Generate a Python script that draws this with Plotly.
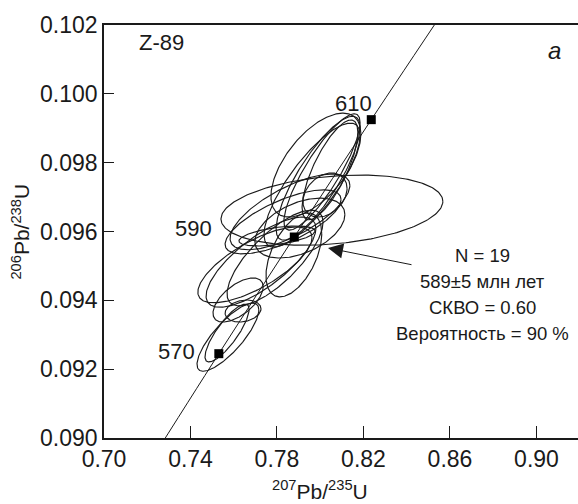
import numpy as np
import plotly.graph_objects as go

# Concordia reference points (207Pb/235U, 206Pb/238U)
conc_x = [0.7189, 0.7531, 0.7880, 0.8236, 0.8598]
conc_y = [0.08906, 0.09245, 0.09584, 0.09925, 0.10266]
# Age markers on concordia
mark_age = ["570", "590", "610"]
mark_x = [0.7531, 0.7880, 0.8236]
mark_y = [0.09245, 0.09584, 0.09925]

# Error ellipses: centre x, centre y, half-width x, half-height y, correlation
ell_cx = [0.7980, 0.7990, 0.8008, 0.7962, 0.8045, 0.8022, 0.8054, 0.7860, 0.7828, 0.7906,
          0.7800, 0.7698, 0.7726, 0.7791, 0.7878, 0.7643, 0.7620, 0.7573, 0.7569]
ell_cy = [0.09793, 0.09755, 0.09773, 0.09735, 0.09779, 0.09706, 0.09662, 0.09657, 0.09628, 0.09610,
          0.09587, 0.09503, 0.09511, 0.09523, 0.09532, 0.09369, 0.09401, 0.09293, 0.09305]
ell_sx = [0.0208, 0.0194, 0.0176, 0.0222, 0.0129, 0.0102, 0.0513, 0.0277, 0.0268, 0.0208,
          0.0176, 0.0264, 0.0254, 0.0222, 0.0129, 0.0083, 0.0116, 0.0143, 0.0102]
ell_sy = [0.00151, 0.00180, 0.00169, 0.00180, 0.00145, 0.00064, 0.00102, 0.00110, 0.00093, 0.00087,
          0.00029, 0.00110, 0.00131, 0.00139, 0.00122, 0.00032, 0.00064, 0.00099, 0.00084]
ell_rho = [0.60, 0.82, 0.85, 0.80, 0.75, 0.30, 0.25, 0.70, 0.70, 0.45,
           0.50, 0.72, 0.75, 0.75, 0.50, 0.20, 0.60, 0.80, 0.82]

x_ticks = [0.70, 0.74, 0.78, 0.82, 0.86, 0.90]
y_ticks = [0.090, 0.092, 0.094, 0.096, 0.098, 0.100, 0.102]

result_lines = ["N = 19", "589±5 млн лет", "СКВО = 0.60", "Вероятность = 90 %"]

FONT = "Liberation Sans, Arial, sans-serif"
INK = "#1a1a1a"
fig = go.Figure()

t = np.linspace(0, 2 * np.pi, 240)
for cx, cy, sx, sy, r in zip(ell_cx, ell_cy, ell_sx, ell_sy, ell_rho):
    ex = cx + sx * np.cos(t)
    ey = cy + sy * (r * np.cos(t) + np.sqrt(1 - r * r) * np.sin(t))
    fig.add_trace(go.Scatter(x=ex, y=ey, mode="lines",
                             line=dict(color=INK, width=1.15), hoverinfo="skip", showlegend=False))

fig.add_trace(go.Scatter(x=conc_x, y=conc_y, mode="lines", line=dict(color=INK, width=1),
                         showlegend=False, line_shape="spline"))
fig.add_trace(go.Scatter(x=mark_x, y=mark_y, mode="markers",
                         marker=dict(symbol="square", size=9, color="black"), showlegend=False))

x_rng = [0.70, 0.9192]
y_rng = [0.090, 0.102]

fig.update_layout(
    width=578, height=504,
    margin=dict(l=104, r=0, t=25, b=66),
    plot_bgcolor="white", paper_bgcolor="white",
    font=dict(family=FONT, size=21, color=INK),
    xaxis=dict(range=x_rng, tickvals=x_ticks, ticktext=[f"{v:.2f}" for v in x_ticks],
               showgrid=False, zeroline=False, showline=True, linecolor=INK, linewidth=1.5,
               mirror=True, ticks="inside", ticklen=12, tickcolor=INK, tickwidth=1.2,
               tickfont=dict(size=23)),
    yaxis=dict(range=y_rng, tickvals=y_ticks, ticktext=[f"{v:.3f}" for v in y_ticks],
               showgrid=False, zeroline=False, showline=True, linecolor=INK, linewidth=1.5,
               ticks="inside", ticklen=10, tickcolor=INK, tickwidth=1.2,
               tickfont=dict(size=23)),
)

def px2x(p):
    return x_rng[0] + (p - 104) / 474 * (x_rng[1] - x_rng[0])

def py2y(p):
    return y_rng[0] + (438 - p) / 413 * (y_rng[1] - y_rng[0])

ann = []
ann.append(dict(x=0.456, y=-0.126, xref="paper", yref="paper", showarrow=False,
                text="<sup>207</sup>Pb/<sup>235</sup>U", font=dict(size=21), xanchor="center", yanchor="middle"))
ann.append(dict(x=-0.177, y=0.5, xref="paper", yref="paper", showarrow=False, textangle=-90,
                text="<sup>206</sup>Pb/<sup>238</sup>U", font=dict(size=21), xanchor="center", yanchor="middle"))
ann.append(dict(x=px2x(137), y=py2y(42), text="Z-89", showarrow=False, xanchor="left", yanchor="middle",
                font=dict(size=22)))
ann.append(dict(x=px2x(554), y=py2y(50), text="<i>a</i>", showarrow=False, xanchor="center", yanchor="middle",
                font=dict(size=24)))
ann.append(dict(x=px2x(353), y=py2y(103), text=mark_age[2], showarrow=False, xanchor="center",
                yanchor="middle", font=dict(size=22)))
ann.append(dict(x=px2x(214), y=py2y(228), text=mark_age[1], showarrow=False, xanchor="right",
                yanchor="middle", font=dict(size=22)))
ann.append(dict(x=px2x(197), y=py2y(351), text=mark_age[0], showarrow=False, xanchor="right",
                yanchor="middle", font=dict(size=22)))
for i, line in enumerate(result_lines):
    ann.append(dict(x=px2x(482), y=py2y(255 + 26 * i), showarrow=False, xanchor="center",
                    yanchor="middle", text=line, font=dict(size=18.5)))
ann.append(dict(x=px2x(328), y=py2y(248), ax=85, ay=17, showarrow=True, arrowhead=2, arrowsize=3,
                arrowwidth=1, arrowcolor=INK, text="", standoff=0))
fig.update_layout(annotations=ann)

fig.write_html("out.html")
